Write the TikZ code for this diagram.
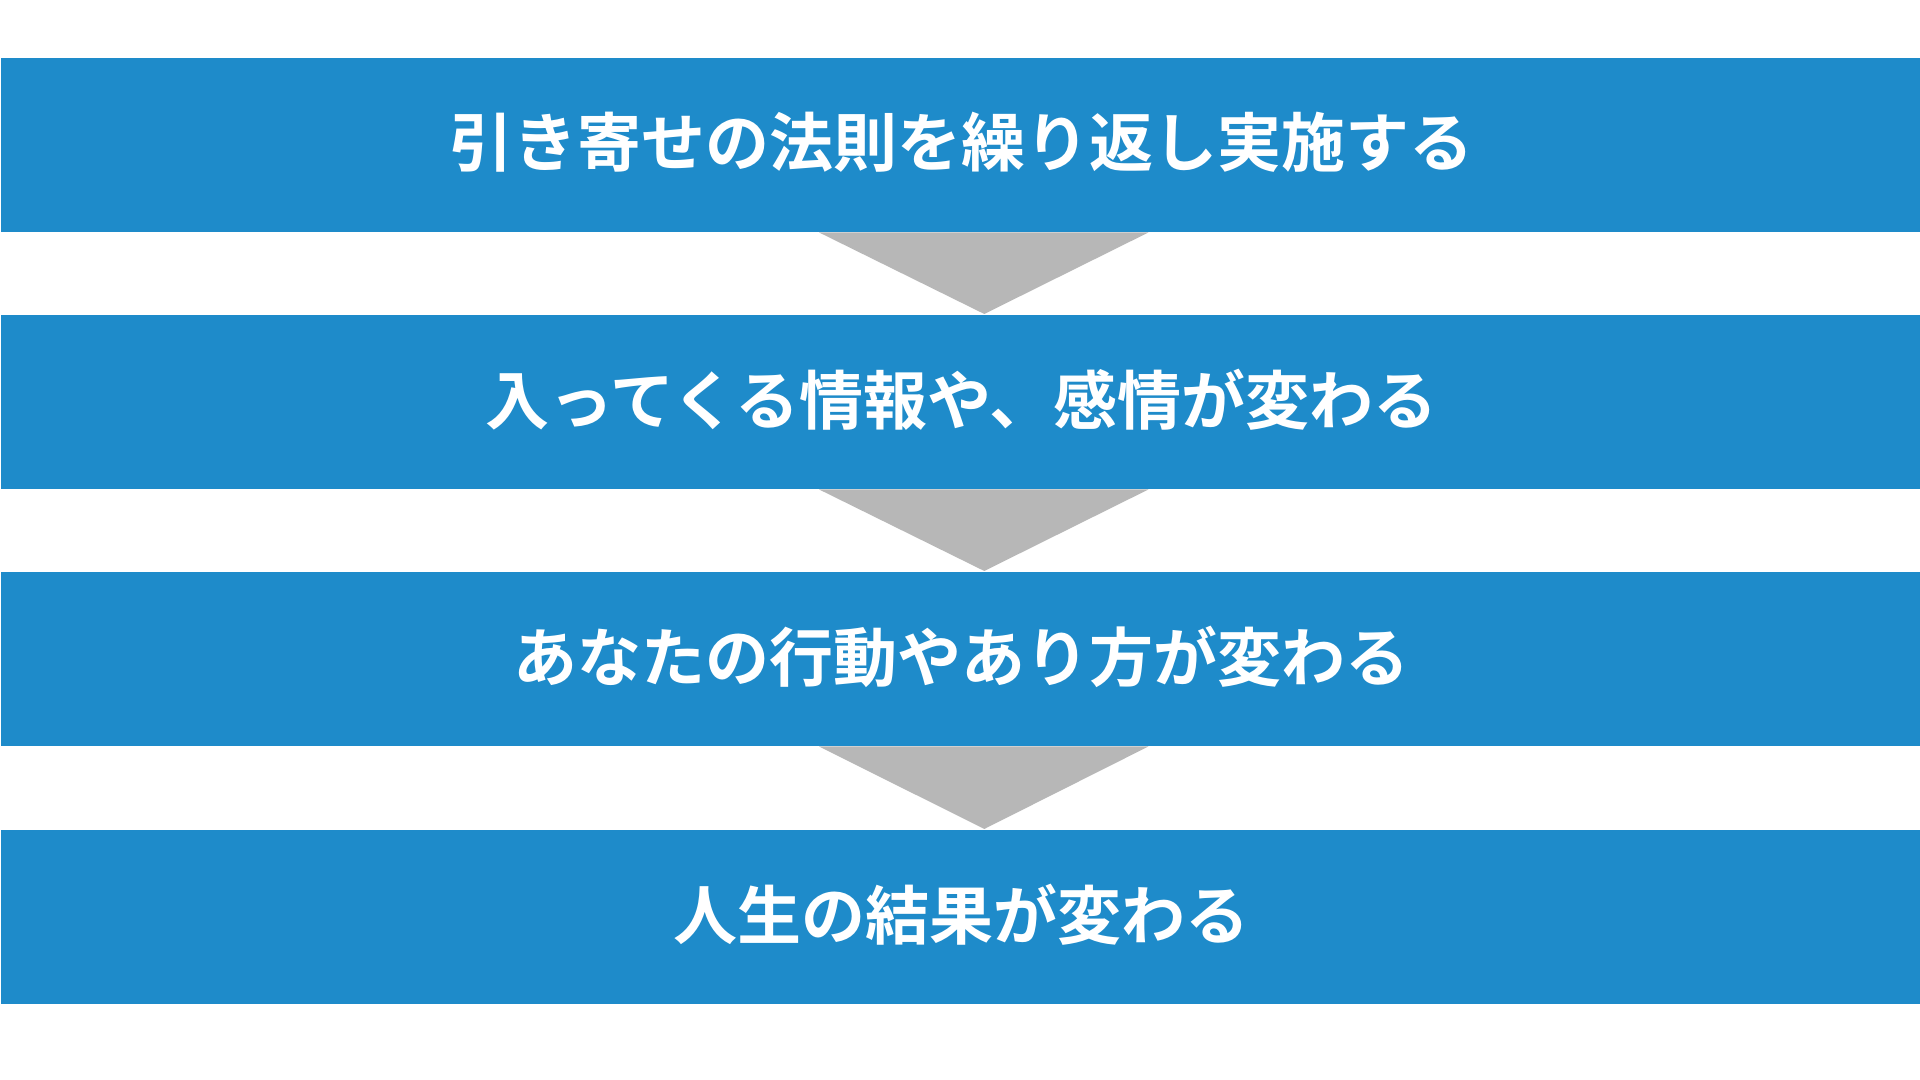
\documentclass[tikz,border=0pt]{standalone}
\usepackage{fontspec}
\newfontfamily\jpfont{Noto Sans CJK JP}[BoldFont={* Bold}]
\definecolor{bandblue}{RGB}{30,139,202}
\definecolor{arrowgrey}{RGB}{183,183,183}
\begin{document}
\begin{tikzpicture}[x=0.01cm,y=-0.01cm,
  band/.style={fill=bandblue, draw=none, minimum width=19.2cm, minimum height=1.74cm, inner sep=0pt,
    text=white, font=\jpfont\bfseries\fontsize{18.2pt}{20pt}\selectfont, anchor=north west, text depth=0.1cm},
  downarrow/.style={fill=arrowgrey, draw=none}]
\useasboundingbox (0,0) rectangle (1920,1080);
\fill[white] (0,0) rectangle (1920,1080);
\node[band] (b1) at (0,57) {引き寄せの法則を繰り返し実施する};
\node[band] (b2) at (0,314) {入ってくる情報や、感情が変わる};
\node[band] (b3) at (0,571) {あなたの行動やあり方が変わる};
\node[band] (b4) at (0,829) {人生の結果が変わる};
\foreach \a/\b in {b1/b2,b2/b3,b3/b4}{
  \coordinate (tl) at ([xshift=-1.42cm]\a.south);
  \coordinate (tr) at ([xshift=1.87cm]\a.south);
  \coordinate (tip) at ([xshift=0.23cm]\b.north);
  \fill[downarrow] (tl) -- (tr) -- (tip) -- cycle;
}
\end{tikzpicture}
\end{document}
